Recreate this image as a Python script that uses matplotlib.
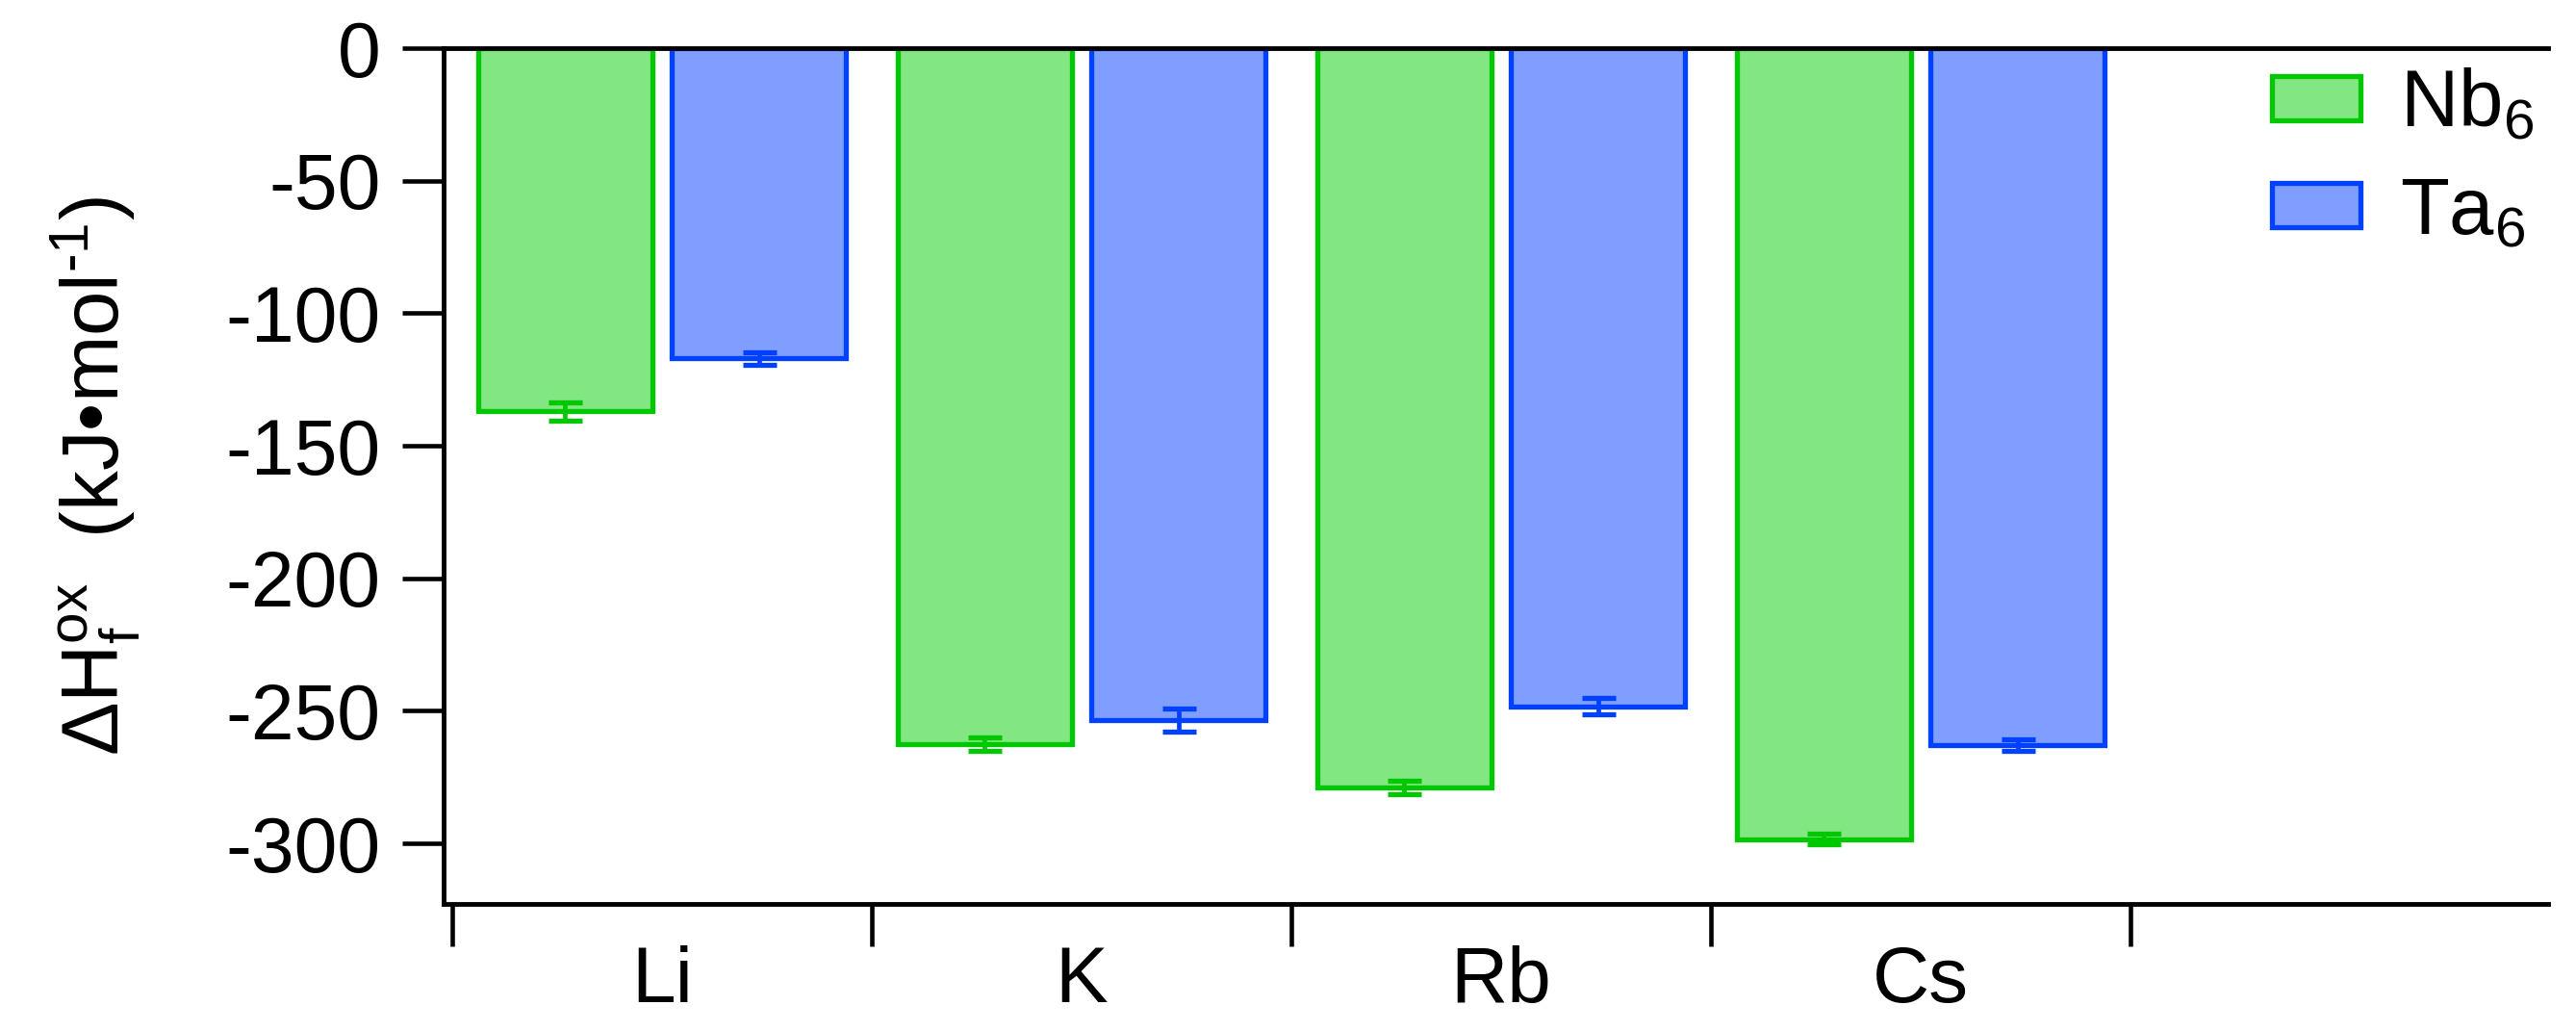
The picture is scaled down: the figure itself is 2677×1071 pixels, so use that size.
import matplotlib
matplotlib.use("Agg")
import matplotlib.pyplot as plt
import numpy as np

# ---- data ----
categories = ["Li", "K", "Rb", "Cs"]
series_names = ["Nb$_6$", "Ta$_6$"]
nb6_values = [-137.0, -262.5, -279.0, -298.5]
nb6_errors = [3.5, 2.5, 2.6, 2.0]
ta6_values = [-117.0, -253.5, -248.3, -262.9]
ta6_errors = [2.4, 4.5, 3.0, 2.2]
yticks = [0, -50, -100, -150, -200, -250, -300]

# ---- style ----
plt.rcParams["font.family"] = ["Liberation Sans", "DejaVu Sans"]
plt.rcParams["mathtext.fontset"] = "custom"
plt.rcParams["mathtext.rm"] = "Liberation Sans"
plt.rcParams["mathtext.it"] = "Liberation Sans:italic"
plt.rcParams["mathtext.bf"] = "Liberation Sans:bold"
plt.rcParams["axes.unicode_minus"] = False

green_fill = "#82E682"
green_edge = "#00C800"
blue_fill = "#809EFF"
blue_edge = "#0040FF"

fig = plt.figure(figsize=(26.77, 10.71), dpi=100)
ax = fig.add_axes([0.1722, 0.1232, 0.9892 - 0.1722, 0.9533 - 0.1232])

x = np.arange(len(categories))
off = 0.231
w = 0.415
lw = 3.8

ax.bar(x - off, nb6_values, width=w, color=green_fill, edgecolor=green_edge,
       linewidth=lw, label=series_names[0], zorder=1)
ax.bar(x + off, ta6_values, width=w, color=blue_fill, edgecolor=blue_edge,
       linewidth=lw, label=series_names[1], zorder=1)
ax.errorbar(x - off, nb6_values, yerr=nb6_errors, fmt="none", ecolor=green_edge,
            elinewidth=3.4, capsize=12.6, capthick=3.8, zorder=3)
ax.errorbar(x + off, ta6_values, yerr=ta6_errors, fmt="none", ecolor=blue_edge,
            elinewidth=3.4, capsize=12.6, capthick=3.8, zorder=3)

ax.set_xlim(-0.5206, 4.495)
ax.set_ylim(-322.9, 0)

for s in ["left", "bottom", "top"]:
    ax.spines[s].set_linewidth(3.5)
    ax.spines[s].set_color("black")
ax.spines["right"].set_visible(False)

ax.set_yticks(yticks)
ax.set_yticklabels([str(v) for v in yticks])
ax.tick_params(axis="y", which="major", direction="out", length=31, width=3.3,
               labelsize=58, pad=16)

ax.set_xticks(np.arange(len(categories) + 1) - 0.5)
ax.set_xticklabels([])
ax.set_xticks(x, minor=True)
ax.set_xticklabels(categories, minor=True)
ax.tick_params(axis="x", which="major", direction="out", length=32, width=3.3)
ax.tick_params(axis="x", which="minor", length=0, labelsize=59, pad=31)
ax.tick_params(axis="x", which="both", top=False)

ax.set_ylabel("Δ$\\mathrm{H}_\\mathrm{f}^\\mathrm{ox}$  (kJ•mol$^{\\text{-1}}$)",
              fontsize=60, labelpad=62)

leg = ax.legend(loc="upper left", bbox_to_anchor=(2361 / 2677, 1 - 70 / 1071),
                bbox_transform=fig.transFigure, frameon=False, fontsize=60,
                handlelength=1.1, handleheight=0.47, handletextpad=0.5,
                labelspacing=0.4, borderpad=0, borderaxespad=0)

fig.savefig("out.png", dpi=100)
